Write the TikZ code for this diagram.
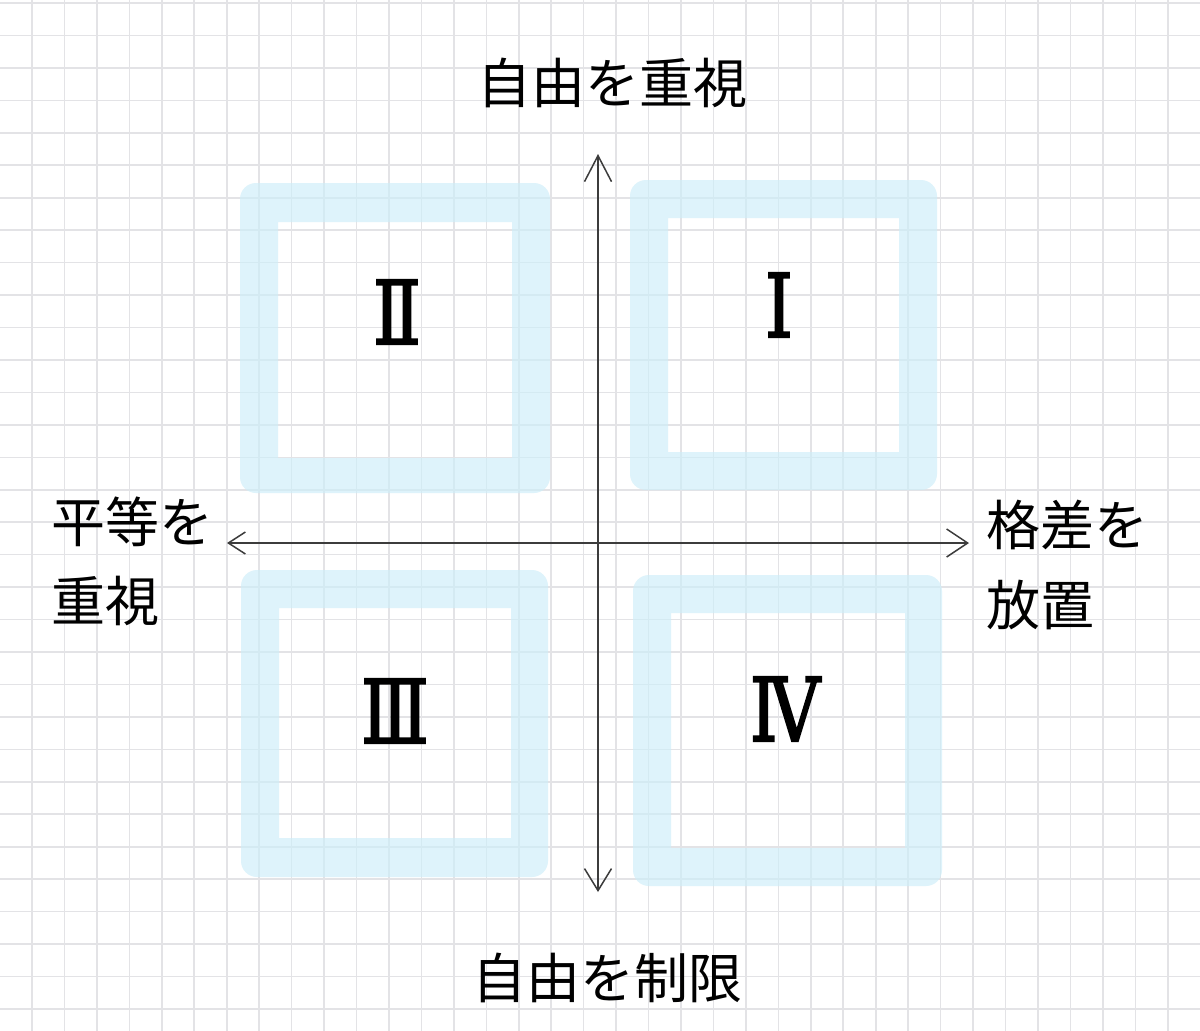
\documentclass[tikz,border=0pt]{standalone}
\usepackage{fontspec}
\usetikzlibrary{arrows.meta}
\newfontfamily\cjk{Noto Sans CJK JP}
\newfontfamily\numfont[FakeBold=2.5]{DejaVu Serif}
\definecolor{gridgray}{RGB}{227,227,230}
\definecolor{axisgray}{RGB}{60,60,60}
\definecolor{quadblue}{RGB}{205,238,249}
\tikzset{
  gridline/.style={gridgray, line width=1.6pt},
  quadbox/.style={fill=quadblue, fill opacity=0.65, even odd rule},
  axislabel/.style={inner sep=0pt, font=\cjk\fontsize{54}{60}\selectfont},
  numeral/.style={inner sep=0pt, xscale=0.8, transform shape, font=\numfont\fontsize{88}{90}\selectfont},
}
\begin{document}
\begin{tikzpicture}[x=1pt, y=-1pt]
  \useasboundingbox[fill=white] (0,0) rectangle (1200,1031);
  % grid paper
  \foreach \i in {0,...,35} \draw[gridline] ({32+32.45*\i},0) -- ({32+32.45*\i},1031);
  \foreach \j in {0,...,31} \draw[gridline] (0,{3+32.45*\j}) -- (1200,{3+32.45*\j});
  % quadrant frames
  \fill[quadbox, rounded corners=16pt] (630,180) rectangle (937,490) [sharp corners] (668,218) rectangle (899,452);
  \fill[quadbox, rounded corners=16pt] (240,183) rectangle (550,493) [sharp corners] (278,222) rectangle (512,458);
  \fill[quadbox, rounded corners=16pt] (241,570) rectangle (548,877) [sharp corners] (279,608) rectangle (511,838);
  \fill[quadbox, rounded corners=16pt] (633,575) rectangle (942,886) [sharp corners] (671,613) rectangle (905,848);
  %nodes
  \node[numeral] at (779,305) (q1) {Ⅰ};
  \node[numeral] at (397,312) (q2) {Ⅱ};
  \node[numeral] at (395,711) (q3) {Ⅲ};
  \node[numeral] at (785,709) (q4) {Ⅳ};
  \node[axislabel] at (612,83) (top) {自由を重視};
  \node[axislabel] at (607,978) (bottom) {自由を制限};
  \node[axislabel, anchor=west] at (51,522) (left1) {平等を};
  \node[axislabel, anchor=west] at (51,601) (left2) {重視};
  \node[axislabel, anchor=west] at (986,525) (right1) {格差を};
  \node[axislabel, anchor=west] at (986,605) (right2) {放置};
  % axes
  \coordinate (ytop) at (598,154);
  \coordinate (ybot) at (598,892);
  \coordinate (xleft) at (227,543);
  \coordinate (xright) at (969,543);
  \draw[axisgray, line width=1.5pt, {Straight Barb[length=22pt,width=27pt]}-{Straight Barb[length=26pt,width=27pt]}] (ybot) -- (ytop);
  \draw[axisgray, line width=1.5pt, {Straight Barb[length=17pt,width=22pt]}-{Straight Barb[length=21pt,width=28pt]}] (xleft) -- (xright);
\end{tikzpicture}
\end{document}
